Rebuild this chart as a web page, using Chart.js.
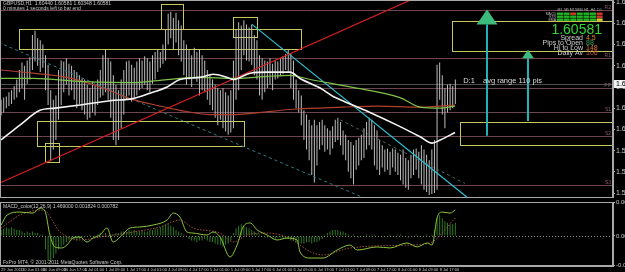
<!DOCTYPE html>
<html>
<head>
<meta charset="utf-8">
<script src="https://cdn.jsdelivr.net/npm/chart.js@4.4.0/dist/chart.umd.min.js"></script>
<style>
  html, body { margin: 0; padding: 0; background: #000; overflow: hidden; width: 625px; height: 272px; }
  #main { position: absolute; left: 0; top: 0; width: 660px; height: 198px; }
  #macd { position: absolute; left: 0; top: 199px; width: 660px; height: 73px; }
</style>
</head>
<body>
<div id="main"><canvas id="priceChart"></canvas></div>
<div id="macd"><canvas id="macdChart"></canvas></div>
<script>
// GBPUSD H1 bars, 29 Jun 17:00 .. 8 Jul (index = hour bar)
const barHigh = [
  1.6043,1.6045,1.6046,1.6050,1.6052,1.6056,1.6062,1.6071,1.6078,1.6075,
  1.6080,1.6083,1.6104,1.6108,1.6101,1.6099,1.6095,1.6085,1.6076,1.6052,
  1.6043,1.6047,1.6071,1.6080,1.6079,1.6082,1.6077,1.6075,1.6071,1.6069,
  1.6066,1.6063,1.6062,1.6057,1.6054,1.6060,1.6056,1.6062,1.6071,1.6085,
  1.6090,1.6082,1.6079,1.6066,1.6057,1.6052,1.6062,1.6071,1.6079,1.6080,
  1.6076,1.6073,1.6079,1.6082,1.6080,1.6084,1.6082,1.6079,1.6085,1.6088,
  1.6090,1.6088,1.6095,1.6109,1.6124,1.6126,1.6120,1.6125,1.6118,1.6113,
  1.6099,1.6095,1.6090,1.6085,1.6092,1.6088,1.6090,1.6085,1.6080,1.6071,
  1.6066,1.6062,1.6057,1.6054,1.6052,1.6054,1.6050,1.6047,1.6052,1.6080,
  1.6109,1.6116,1.6113,1.6118,1.6114,1.6111,1.6114,1.6104,1.6099,1.6085,
  1.6082,1.6080,1.6079,1.6082,1.6077,1.6080,1.6079,1.6082,1.6084,1.6086,
  1.6090,1.6087,1.6080,1.6062,1.6052,1.6047,1.6033,1.6029,1.6024,1.6019,
  1.6024,1.6019,1.6022,1.6024,1.6019,1.6016,1.6014,1.6018,1.6024,1.6026,
  1.6022,1.6014,1.6010,1.6005,1.6003,1.6000,1.6005,1.6007,1.6010,1.6016,
  1.6022,1.6026,1.6024,1.6019,1.6014,1.6005,1.6000,1.5996,1.5997,1.5994,
  1.5997,1.5996,1.5993,1.5991,1.5996,1.5988,1.5986,1.5991,1.5996,1.5997,
  1.5994,1.6000,1.5996,1.5991,1.5986,1.5996,1.6005,1.6076,1.6078,1.6066,
  1.6054,1.6057,1.6058,1.6056,1.6062
];
const barLow = [
  1.6028,1.6031,1.6035,1.6037,1.6039,1.6043,1.6045,1.6050,1.6054,1.6043,
  1.6058,1.6062,1.6071,1.6079,1.6075,1.6069,1.6073,1.6052,1.6038,1.5985,
  1.5996,1.6005,1.6024,1.6038,1.6050,1.6057,1.6047,1.6052,1.6043,1.6035,
  1.6039,1.6033,1.6029,1.6024,1.6026,1.6031,1.6028,1.6038,1.6045,1.6047,
  1.6050,1.6043,1.6026,1.6005,1.6000,1.6005,1.6016,1.6029,1.6043,1.6047,
  1.6041,1.6045,1.6047,1.6052,1.6054,1.6057,1.6052,1.6050,1.6058,1.6062,
  1.6069,1.6073,1.6077,1.6080,1.6095,1.6101,1.6090,1.6097,1.6085,1.6079,
  1.6066,1.6057,1.6062,1.6055,1.6063,1.6060,1.6047,1.6052,1.6050,1.6043,
  1.6038,1.6033,1.6026,1.6019,1.6024,1.6016,1.6013,1.6010,1.6012,1.6016,
  1.6043,1.6052,1.6071,1.6085,1.6080,1.6079,1.6076,1.6066,1.6062,1.6047,
  1.6043,1.6050,1.6054,1.6057,1.6052,1.6062,1.6063,1.6065,1.6067,1.6071,
  1.6069,1.6054,1.6043,1.6035,1.6031,1.6019,1.6005,1.5996,1.5986,1.5972,
  1.5965,1.5981,1.5996,1.6000,1.5994,1.5996,1.5991,1.5997,1.6003,1.6005,
  1.6000,1.5991,1.5986,1.5975,1.5969,1.5963,1.5977,1.5981,1.5986,1.5988,
  1.5996,1.6000,1.5996,1.5981,1.5977,1.5972,1.5979,1.5975,1.5977,1.5972,
  1.5979,1.5975,1.5972,1.5967,1.5963,1.5960,1.5958,1.5969,1.5972,1.5977,
  1.5969,1.5963,1.5958,1.5956,1.5953,1.5954,1.5955,1.5958,1.6043,1.6029,
  1.6016,1.6031,1.6033,1.6035,1.6039
];

// moving averages (read at a few bars, drawn smooth)
const whiteMaX = [0, 7.2, 14.9, 20.7, 30.2, 41.7, 50.5, 57, 63.6, 68.5, 76.2, 81.2, 86.6, 88.9, 95.4, 101.9, 110.7, 114.5, 122.2, 127.2, 129.9, 141.3, 151.7, 160.5, 165.1, 168.2, 173.9];
const whiteMaY = [1.6005, 1.6019, 1.6033, 1.6035, 1.6038, 1.6042, 1.6044, 1.6049, 1.6055, 1.6062, 1.6064, 1.6067, 1.6064, 1.6062, 1.6068, 1.6069, 1.6069, 1.6063, 1.6054, 1.6046, 1.6043, 1.6031, 1.6019, 1.6008, 1.6002, 1.6005, 1.6012];
const greenMaX = [0, 12.2, 31.4, 50.5, 63.6, 76.2, 88.9, 101.9, 110.7, 118.4, 133.7, 152.8, 160.5, 168.2, 173.9];
const greenMaY = [1.6063, 1.6063, 1.6060, 1.6059, 1.6062, 1.6064, 1.6063, 1.6065, 1.6066, 1.6062, 1.6055, 1.6045, 1.6036, 1.6035, 1.6037];
const redMaX = [0, 12.2, 25.2, 37.9, 49.4, 60.9, 68.5, 80, 87.7, 95.4, 111.8, 131, 144, 160.5, 173.9];
const redMaY = [1.6071, 1.6068, 1.6064, 1.6055, 1.6044, 1.6037, 1.6033, 1.6029, 1.6029, 1.6030, 1.6034, 1.6036, 1.6037, 1.6036, 1.6038];

// trend lines (two anchor points each)
const redTrendX = [-1, 166],      redTrendY = [1.5964, 1.6147];
const cyanTrendX = [96.1, 178.5], cyanTrendY = [1.6114, 1.5951];
const tealTrendX = [-1, 141.3],   tealTrendY = [1.6097, 1.5948];
const grayTrendX = [129.9, 177.7], grayTrendY = [1.6024, 1.5964];

// pivot levels and boxes
const pivotLevels = [1.6128, 1.6082, 1.6054, 1.6031, 1.6009, 1.5963];
const pivotNames = ["R2", "R1", "PP", "S1", "S2", "S3"];
const zoneStart = [6.9, 61.3, 88.9, 13.8, 16.8, 172.8, 175.8];
const zoneEnd   = [114.9, 69.7, 98.1, 93.1, 22.2, 240, 240];
const zoneHigh  = [1.6110, 1.6133, 1.6121, 1.6023, 1.6002, 1.6117, 1.6022];
const zoneLow   = [1.6091, 1.6110, 1.6102, 1.5999, 1.5984, 1.6089, 1.6000];

// target arrows
const arrowX = [186.2, 201.9];
const arrowFrom = [1.6009, 1.6023];
const arrowBase = [1.6114, 1.6082];
const arrowTip = [1.6128, 1.6090];

const noteText = ["D:1", "avg range 110 pis"];
const noteX = [177, 184.6];
const noteY = [1.6061, 1.6061];

const lastPrice = 1.60581;
const priceTicks = [1.6135,1.6125,1.6115,1.6105,1.6095,1.6085,1.6075,1.6065,1.6055,1.6045,1.6035,1.6025,1.6015,1.6005,1.5995,1.5985,1.5975,1.5965,1.5955];

const infoLabels = ["Spread", "Pips to Open", "Hi to Low", "Daily Av"];
const infoValues = ["4.5", "88", "148", "106"];
const infoColors = ["#d9862a", "#3aa35a", "#d9742a", "#c8552f"];
const gridCols = ["M1", "M5", "M15", "M30", "H1", "H4", "D1"];
const gridRows = ["MACD", "STR", "EMA"];
const gridState = [[1,1,0,1,1,1,0],[1,1,1,1,1,1,0],[1,1,1,1,1,1,2]];

const headerLines = ["GBPUSD,H1  1.60440 1.60581 1.60348 1.60581", "0 minutes 1 seconds left to bar end"];

// MACD panel
const macdX = [0,2.3,7.2,12.2,14.9,16.8,18.7,20.6,23.3,25.2,27.5,30.2,32.9,35.2,37.9,40.6,42.9,45.6,49.4,53.2,58.2,63.6,65.9,68.5,71.2,73.5,78.9,81.2,83.9,87.7,90.4,92.7,95.4,98.1,101.9,105.7,109.5,113.4,114.5,118.4,123.3,128.7,133.7,136.4,144,149,155.5,159.4,163.2,165.1,167,168.9,172,174];
const macdY = [0.00074,0.00142,0.00162,0.00155,0.00189,0.00169,0.00007,-0.00074,-0.00081,-0.00061,-0.00014,-0.00007,-0.00041,-0.00014,0.00007,0.00054,-0.00041,-0.00007,0.00054,0.00061,0.00074,0.00108,0.00155,0.00128,0.00027,0.00020,0.00007,0.00027,-0.00007,-0.00142,-0.00061,0.00061,0.00088,0.00041,0.00007,-0.00027,-0.00014,-0.00027,-0.00108,-0.00149,-0.00149,-0.00095,-0.00061,-0.00095,-0.00074,-0.00081,-0.00047,-0.00074,-0.00047,-0.00061,0.00122,0.00162,0.00155,0.00176];
const signalX = [0,7.2,16.1,22.6,30.2,37.9,50.5,60.9,68.5,73.5,83.9,88.9,94.2,101.9,109.5,119.5,123.3,133.7,156.7,164.3,174];
const signalY = [0.00054,0.00142,0.00176,0.00027,-0.00027,-0.00007,0.00027,0.00061,0.00108,0.00054,0.00020,-0.00041,0.00007,0.00020,-0.00007,-0.00115,-0.00128,-0.00081,-0.00061,-0.00047,0.00122];
const histValues = [
  0.0004,0.0005,0.0006,0.0005,0.0006,0.0005,0.0004,0.0004,
  0.0003,0.0002,0.0003,0.0002,0.0003,0.0002,0.0002,0.0001,0.0001,
  -0.0009,-0.0017,-0.0018,-0.0015,-0.0012,
  -0.0009,-0.0007,-0.0006,-0.0004,
  -0.0003,-0.0002,-0.0002,-0.0003,-0.0002,-0.0001,
  -0.0001,0,0.0001,0,-0.0001,0.0001,0.0002,0.0001,0.0002,0,-0.0001,0.0001,0.0002,0.0002,0.0003,0.0003,0.0003,
  0.0004,0.0003,0.0004,0.0003,0.0003,0.0004,0.0003,0.0003,0.0004,0.0004,0.0005,0.0005,0.0006,
  0.0007,0.0008,0.0008,0.0007,
  0.0006,0.0004,0.0003,0.0002,0.0001,0,
  -0.0002,-0.0003,-0.0003,-0.0004,-0.0003,-0.0003,-0.0002,-0.0003,-0.0004,-0.0004,
  -0.0005,-0.0006,-0.0006,-0.0007,-0.0006,-0.0005,-0.0003,
  0.0002,0.0005,0.0007,0.0008,0.0007,0.0006,
  0.0005,0.0004,0.0003,0.0002,0.0001,0,-0.0001,-0.0001,0,-0.0001,-0.0002,-0.0001,-0.0001,-0.0002,-0.0002,
  -0.0002,-0.0003,-0.0003,-0.0004,-0.0005,-0.0005,-0.0005,-0.0004,-0.0004,-0.0005,-0.0004,-0.0004,-0.0003,-0.0002,
  0.0001,0.0002,0.0003,0.0004,0.0004,0.0004,0.0003,0.0003,0.0002,0.0001,
  0,0.0001,0,-0.0001,0,0,0.0001,0,0.0001,0.0001,0,0,-0.0001,0,0,0.0001,0,0,0.0001,0.0001,0,0,-0.0001,0,0,0.0001,0,0,0,0.0001,0,
  0.0001,0.0004,0.0012,0.0014,0.0012,0.0010,0.0009,0.0008,0.0008,0.0009
];
const macdTicks = [0.0023, 0, -0.002];
const macdTickLabels = ["0.002299", "0.00", "-0.002029"];
const macdTitle = "MACD_color(12,26,9) 1.469000 0.001824 0.000782";
const copyright = "FxPro MT4, \u00a9 2001-2011 MetaQuotes Software Corp.";

const timeTicks = [0,8,16,24,32,40,48,56,64,72,80,88,96,104,112,120,128,136,144,152,160,168];
const timeLabels = ["29 Jun 2011","30 Jun 01:00","30 Jun 09:00","30 Jun 17:00","1 Jul 01:00","1 Jul 09:00","1 Jul 17:00",
  "4 Jul 01:00","4 Jul 09:00","4 Jul 17:00","5 Jul 01:00","5 Jul 09:00","5 Jul 17:00","6 Jul 01:00","6 Jul 09:00",
  "6 Jul 17:00","7 Jul 01:00","7 Jul 09:00","7 Jul 17:00","8 Jul 01:00","8 Jul 09:00","8 Jul 17:00"];

const X_MIN = -0.42, X_MAX = 234.4;
const FONT = '"Liberation Sans", Arial, sans-serif';

const pts = (xs, ys) => xs.map((x, i) => ({ x: x, y: ys[i] }));
const lineSet = (xs, ys, color, width, extra) => Object.assign({
  type: "line", data: pts(xs, ys), borderColor: color, borderWidth: width,
  pointRadius: 0, fill: false, tension: 0, order: 1
}, extra || {});

const framePlugin = {
  id: "frame",
  afterDraw(chart) {
    const { ctx, chartArea: a } = chart;
    ctx.save();
    ctx.strokeStyle = "#a8a8a8";
    ctx.lineWidth = 1;
    ctx.strokeRect(a.left + 0.5, a.top + 0.5, a.width - 1, a.height - 1);
    ctx.restore();
  }
};

const overlayPlugin = {
  id: "overlay",
  beforeDatasetsDraw(chart) {
    const { ctx, chartArea: a, scales: { x, y } } = chart;
    ctx.save();
    ctx.beginPath();
    ctx.rect(a.left, a.top, a.width, a.height);
    ctx.clip();
    ctx.lineWidth = 1;
    ctx.font = "5px " + FONT;
    ctx.textAlign = "right";
    ctx.textBaseline = "bottom";
    pivotLevels.forEach((p, i) => {
      const py = Math.round(y.getPixelForValue(p)) + 0.5;
      ctx.strokeStyle = "#6b4450";
      ctx.beginPath(); ctx.moveTo(a.left, py); ctx.lineTo(a.right, py); ctx.stroke();
      ctx.fillStyle = "#8c5a68";
      ctx.fillText(pivotNames[i], a.right - 2, py - 0.5);
    });
    const by = Math.round(y.getPixelForValue(lastPrice)) + 0.5;
    ctx.strokeStyle = "#505050";
    ctx.beginPath(); ctx.moveTo(a.left, by); ctx.lineTo(a.right, by); ctx.stroke();
    ctx.strokeStyle = "#c8c85a";
    zoneStart.forEach((s, i) => {
      const x0 = Math.round(x.getPixelForValue(s)) + 0.5;
      const x1 = Math.round(x.getPixelForValue(zoneEnd[i])) + 0.5;
      const y0 = Math.round(y.getPixelForValue(zoneHigh[i])) + 0.5;
      const y1 = Math.round(y.getPixelForValue(zoneLow[i])) + 0.5;
      ctx.strokeRect(x0, y0, x1 - x0, y1 - y0);
    });
    ctx.restore();
  },
  afterDatasetsDraw(chart) {
    const { ctx, chartArea: a, scales: { x, y } } = chart;
    ctx.save();
    arrowX.forEach((ax, i) => {
      const px = Math.round(x.getPixelForValue(ax));
      const yFrom = y.getPixelForValue(arrowFrom[i]);
      const yBase = y.getPixelForValue(arrowBase[i]);
      const yTip = y.getPixelForValue(arrowTip[i]);
      const half = (yBase - yTip) * 0.7;
      ctx.strokeStyle = "#1fb3b8";
      ctx.lineWidth = 2;
      ctx.beginPath(); ctx.moveTo(px, yFrom); ctx.lineTo(px, yBase); ctx.stroke();
      ctx.fillStyle = "#3dbb7c";
      ctx.beginPath();
      ctx.moveTo(px, yTip); ctx.lineTo(px - half, yBase); ctx.lineTo(px + half, yBase);
      ctx.closePath(); ctx.fill();
    });
    ctx.fillStyle = "#dcdcdc";
    ctx.font = "7.5px " + FONT;
    ctx.textAlign = "left";
    ctx.textBaseline = "middle";
    noteText.forEach((t, i) => ctx.fillText(t, x.getPixelForValue(noteX[i]), y.getPixelForValue(noteY[i])));
    ctx.restore();
  },
  afterDraw(chart) {
    const { ctx, chartArea: a, scales: { y } } = chart;
    ctx.save();
    // header
    ctx.fillStyle = "#c8c8c8";
    ctx.font = "5px " + FONT;
    ctx.textAlign = "left";
    ctx.textBaseline = "top";
    headerLines.forEach((t, i) => ctx.fillText(t, 3, 1.5 + i * 5));
    // signal grid
    const gx = a.right - 56, cw = 6, gap = 0.6;
    ctx.font = "3.5px " + FONT;
    ctx.fillStyle = "#b8b8b8";
    ctx.textAlign = "center";
    gridCols.forEach((c, j) => ctx.fillText(c, gx + j * (cw + gap) + cw / 2, 8));
    ctx.textAlign = "right";
    gridRows.forEach((r, k) => {
      ctx.fillStyle = "#b8b8b8";
      ctx.fillText(r, gx - 1, 12 + k * 3);
      gridState[k].forEach((s, j) => {
        ctx.fillStyle = s === 1 ? "#22b522" : (s === 0 ? "#d23a2a" : "#e0d030");
        ctx.fillRect(gx + j * (cw + gap), 12.5 + k * 3, cw, 2.4);
      });
    });
    // big price
    ctx.fillStyle = "#33d633";
    ctx.font = "14px " + FONT;
    ctx.textAlign = "right";
    ctx.textBaseline = "alphabetic";
    ctx.fillText(lastPrice.toFixed(5), a.right - 11, 34);
    ctx.font = "7px " + FONT;
    infoLabels.forEach((t, i) => {
      const ty = 40 + i * 5;
      ctx.textAlign = "right";
      ctx.fillStyle = "#d0d0d0";
      ctx.fillText(t, a.right - 30, ty);
      ctx.textAlign = "left";
      ctx.fillStyle = infoColors[i];
      ctx.fillText(infoValues[i], a.right - 27, ty);
    });
    // price box on axis
    const py = y.getPixelForValue(lastPrice);
    ctx.fillStyle = "#f2f2f2";
    ctx.fillRect(a.right + 1, Math.round(py) - 4, 46, 8);
    ctx.fillStyle = "#000";
    ctx.textAlign = "left";
    ctx.textBaseline = "middle";
    ctx.fillText(lastPrice.toFixed(5), a.right + 3, py);
    ctx.restore();
  }
};

new Chart(document.getElementById("priceChart"), {
  type: "line",
  data: {
    datasets: [
      lineSet(whiteMaX, whiteMaY, "#f4f4f4", 1.6, { cubicInterpolationMode: "monotone" }),
      lineSet(greenMaX, greenMaY, "#7fc24a", 1.2, { cubicInterpolationMode: "monotone" }),
      lineSet(redMaX, redMaY, "#b2402e", 1.2, { cubicInterpolationMode: "monotone" }),
      lineSet(redTrendX, redTrendY, "#d42020", 1.2),
      lineSet(cyanTrendX, cyanTrendY, "#2cc4d4", 1.2),
      lineSet(tealTrendX, tealTrendY, "#2f7f80", 1, { borderDash: [3, 3] }),
      lineSet(grayTrendX, grayTrendY, "#4f6458", 1, { borderDash: [3, 3] }),
      {
        type: "bar",
        data: barLow.map((lo, i) => ({ x: i, y: [lo, barHigh[i]] })),
        backgroundColor: "#bdbdbd",
        borderWidth: 0,
        barThickness: 1,
        inflateAmount: 0,
        order: 5
      }
    ]
  },
  options: {
    responsive: true,
    maintainAspectRatio: false,
    animation: false,
    events: [],
    layout: { padding: 0 },
    plugins: { legend: { display: false }, tooltip: { enabled: false } },
    scales: {
      x: { type: "linear", display: false, min: X_MIN, max: X_MAX, offset: false },
      y: {
        position: "right",
        min: 1.6137 - 198 * 0.0000943,
        max: 1.6137,
        afterBuildTicks: s => { s.ticks = priceTicks.map(v => ({ value: v })); },
        afterFit: s => { s.width = 47; s.paddingTop = 0; s.paddingBottom = 0; },
        grid: { drawOnChartArea: false, tickLength: 2, color: "#a8a8a8" },
        border: { color: "#a8a8a8" },
        ticks: { color: "#c8c8c8", font: { size: 7, family: FONT }, padding: 1, callback: v => v.toFixed(4) }
      }
    }
  },
  plugins: [overlayPlugin, framePlugin]
});

const macdPlugin = {
  id: "macdDecor",
  beforeDatasetsDraw(chart) {
    const { ctx, chartArea: a, scales: { y } } = chart;
    ctx.save();
    const zy = Math.round(y.getPixelForValue(0)) + 0.5;
    ctx.strokeStyle = "#8a8a8a";
    ctx.setLineDash([1, 2]);
    ctx.beginPath(); ctx.moveTo(a.left, zy); ctx.lineTo(a.right, zy); ctx.stroke();
    ctx.restore();
  },
  afterDraw(chart) {
    const { ctx, chartArea: a } = chart;
    ctx.save();
    ctx.fillStyle = "#c8c8c8";
    ctx.font = "5px " + FONT;
    ctx.textAlign = "left";
    ctx.textBaseline = "top";
    ctx.fillText(macdTitle, a.left + 3, a.top + 2);
    ctx.textBaseline = "bottom";
    ctx.fillText(copyright, a.left + 3, a.bottom - 1);
    ctx.restore();
  }
};

new Chart(document.getElementById("macdChart"), {
  type: "line",
  data: {
    datasets: [
      lineSet(macdX, macdY, "#8cc43c", 1, { cubicInterpolationMode: "monotone" }),
      lineSet(signalX, signalY, "#a0503e", 1, { borderDash: [1.5, 1.5], cubicInterpolationMode: "monotone" }),
      {
        type: "bar",
        data: histValues.map((v, i) => ({ x: i, y: v })),
        backgroundColor: "#2f7a22",
        borderWidth: 0,
        barThickness: 1,
        inflateAmount: 0,
        order: 5
      }
    ]
  },
  options: {
    responsive: true,
    maintainAspectRatio: false,
    animation: false,
    events: [],
    layout: { padding: { top: 3 } },
    plugins: { legend: { display: false }, tooltip: { enabled: false } },
    scales: {
      x: {
        type: "linear", min: X_MIN, max: X_MAX, offset: false,
        afterBuildTicks: s => { s.ticks = timeTicks.map(v => ({ value: v })); },
        afterFit: s => { s.height = 6; s.paddingLeft = 0; s.paddingRight = 0; },
        grid: { drawOnChartArea: false, tickLength: 1, color: "#a8a8a8" },
        border: { color: "#a8a8a8" },
        ticks: {
          color: "#c8c8c8", font: { size: 4, family: FONT }, padding: 0,
          maxRotation: 0, autoSkip: false, align: "start",
          callback: (v, i) => timeLabels[i]
        }
      },
      y: {
        position: "right",
        min: -0.00203,
        max: 0.0023,
        afterBuildTicks: s => { s.ticks = macdTicks.map(v => ({ value: v })); },
        afterFit: s => { s.width = 47; s.paddingTop = 0; s.paddingBottom = 0; },
        grid: { drawOnChartArea: false, tickLength: 2, color: "#a8a8a8" },
        border: { color: "#a8a8a8" },
        ticks: { color: "#c8c8c8", font: { size: 6, family: FONT }, padding: 1, callback: (v, i) => macdTickLabels[i] }
      }
    }
  },
  plugins: [macdPlugin, framePlugin]
});
</script>
</body>
</html>
